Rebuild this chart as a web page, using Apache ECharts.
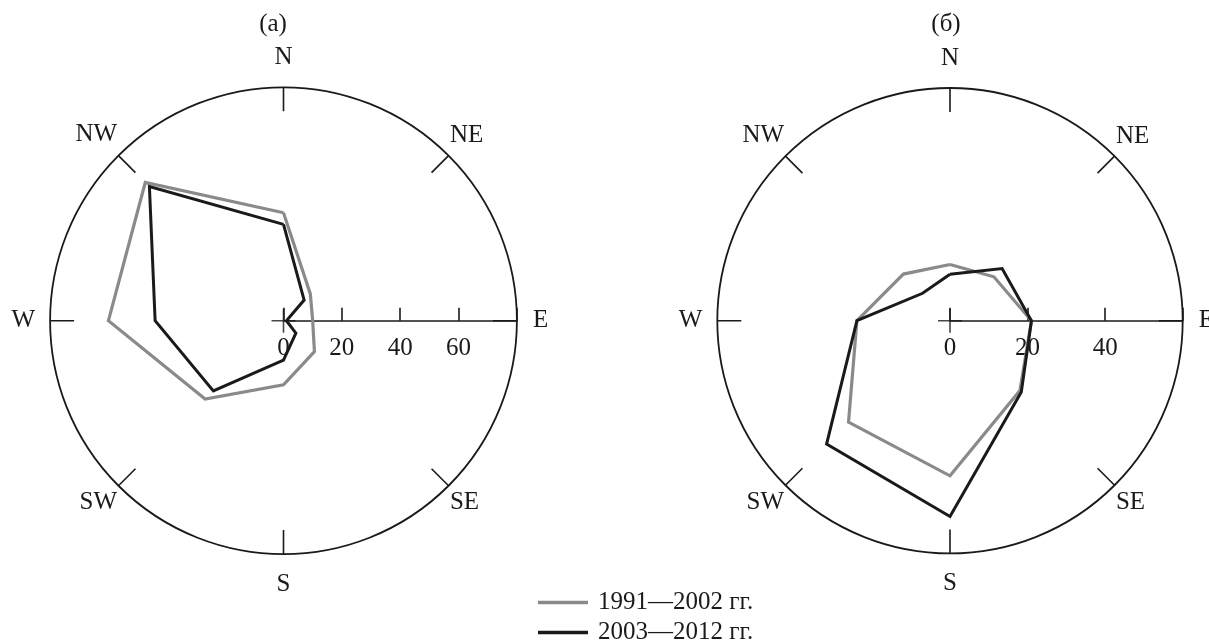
<!DOCTYPE html>
<html>
<head>
<meta charset="utf-8">
<script src="https://cdn.jsdelivr.net/npm/echarts@6/dist/echarts.min.js"></script>
<style>
  html, body { margin: 0; padding: 0; background: #fff; }
  #chart { width: 1209px; height: 643px; }
</style>
</head>
<body>
<div id="chart"></div>
<script>
// Wind directions, compass order (bearing = index * 45°)
const directions = ['N', 'NE', 'E', 'SE', 'S', 'SW', 'W', 'NW'];

// Repeatability of winds, %, panel (а)
const panelA_1991_2002 = [37, 13, 10, 15, 22, 38, 60, 67];
const panelA_2003_2012 = [33, 10, 1, 6, 13.5, 34, 44, 65];

// Repeatability of winds, %, panel (б)
const panelB_1991_2002 = [14.5, 16, 21, 25.5, 40, 37, 24, 17];
const panelB_2003_2012 = [12, 19, 21, 26, 50.5, 45, 24, 10];

// Radius scales and their tick step
const panelA_max = 80;
const panelB_max = 60;
const radiusStep = 20;

const seriesNames = ['1991—2002 гг.', '2003—2012 гг.'];
const panelTitles = ['(а)', '(б)'];
const origin = [[0, 0]];

const FONT = '"Liberation Serif", "DejaVu Serif", serif';
const INK = '#1a1a1a';
const GREY = '#8a8a8a';

// compass bearing -> angle on a counter-clockwise axis that starts at east
function toAngle(i) {
  return ((90 - i * 45) % 360 + 360) % 360;
}
function ring(values) {
  const pts = values.map((v, i) => [v, toAngle(i)]);
  pts.push(pts[0]);
  return pts;
}

const angleName = {};
directions.forEach((d, i) => { angleName[toAngle(i)] = d; });

// per-direction offsets of the compass letters
const labelPad = {
  N: [0, 0, 15, 0], S: [16, 0, 0, 0], E: [0, 0, 0, 14], W: [0, 13, 0, 0],
  NE: [0, 0, 6, 0], NW: [0, 0, 7, 0], SE: [3, 0, 0, 0], SW: [3, 0, 0, 0]
};
const rich = {};
directions.forEach(d => {
  rich[d] = { fontFamily: FONT, fontSize: 25, color: INK, padding: labelPad[d] };
});

function angleAxis(idx) {
  return {
    polarIndex: idx, type: 'value', min: 0, max: 360, interval: 45,
    startAngle: 0, clockwise: false,
    axisLine: { lineStyle: { color: INK, width: 1.8 } },
    axisTick: { show: true, inside: true, length: 24, lineStyle: { color: INK, width: 1.6 } },
    splitLine: { show: false },
    splitArea: { show: false },
    axisLabel: {
      margin: 2,
      formatter: v => (v >= 360 ? '' : '{' + angleName[v] + '|' + angleName[v] + '}'),
      rich: rich
    }
  };
}

function radiusAxis(idx, max) {
  return {
    polarIndex: idx, type: 'value', min: 0, max: max, interval: radiusStep,
    axisLine: { lineStyle: { color: INK, width: 1.6 } },
    axisTick: { show: true, length: 13, lineStyle: { color: INK, width: 1.6 } },
    splitLine: { show: false },
    axisLabel: {
      margin: -15, verticalAlign: 'top',
      fontFamily: FONT, fontSize: 25, color: INK,
      formatter: v => (v >= max ? '' : String(v))
    }
  };
}

function roseLine(name, data, idx, color, width, z) {
  return {
    type: 'line', name: name, coordinateSystem: 'polar', polarIndex: idx,
    data: data, symbol: 'none', smooth: false, z: z,
    lineStyle: { color: color, width: width, join: 'miter' },
    itemStyle: { color: color },
    emphasis: { disabled: true }, animation: false
  };
}

function centreCross(idx) {
  return {
    type: 'scatter', coordinateSystem: 'polar', polarIndex: idx, data: origin,
    symbol: 'path://M0,11.2h24v1.6h-24z M11.2,0h1.6v24h-1.6z',
    symbolSize: 24, symbolKeepAspect: true, silent: true, z: 1,
    itemStyle: { color: INK }, animation: false
  };
}

const titleStyle = { fontFamily: FONT, fontSize: 25, fontWeight: 'normal', color: INK };

const chart = echarts.init(document.getElementById('chart'), null, { renderer: 'canvas' });
chart.setOption({
  animation: false,
  backgroundColor: '#ffffff',
  textStyle: { fontFamily: FONT },
  title: [
    { text: panelTitles[0], left: 273, top: 24, padding: 0, textAlign: 'center',
      textVerticalAlign: 'middle', textStyle: titleStyle },
    { text: panelTitles[1], left: 946, top: 24, padding: 0, textAlign: 'center',
      textVerticalAlign: 'middle', textStyle: titleStyle }
  ],
  legend: {
    orient: 'vertical', left: 538, top: 590, height: 100, padding: 0,
    itemWidth: 50, itemHeight: 3.4, itemGap: 5,
    icon: 'rect', selectedMode: false,
    textStyle: { fontFamily: FONT, fontSize: 25, lineHeight: 25, color: INK, padding: [0, 0, 0, 5] },
    data: seriesNames
  },
  polar: [
    { center: [283.5, 320.7], radius: 233.4 },
    { center: [950, 320.7], radius: 232.7 }
  ],
  angleAxis: [angleAxis(0), angleAxis(1)],
  radiusAxis: [radiusAxis(0, panelA_max), radiusAxis(1, panelB_max)],
  series: [
    centreCross(0), centreCross(1),
    roseLine(seriesNames[0], ring(panelA_1991_2002), 0, GREY, 3.2, 3),
    roseLine(seriesNames[1], ring(panelA_2003_2012), 0, INK, 3, 4),
    roseLine(seriesNames[0], ring(panelB_1991_2002), 1, GREY, 3.2, 3),
    roseLine(seriesNames[1], ring(panelB_2003_2012), 1, INK, 3, 4)
  ]
});
</script>
</body>
</html>
